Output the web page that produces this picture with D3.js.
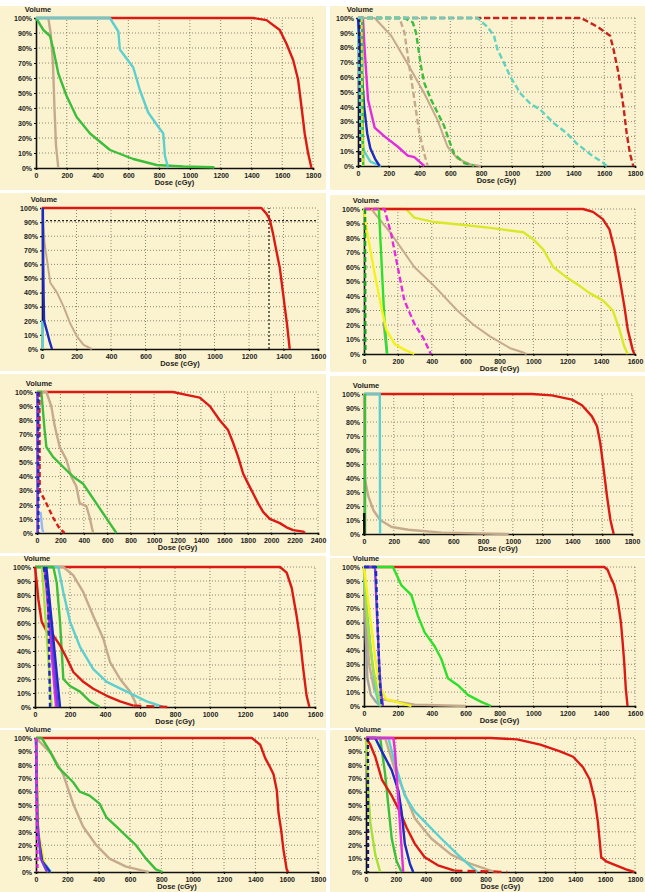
<!DOCTYPE html>
<html>
<head>
<meta charset="utf-8">
<script src="https://cdn.jsdelivr.net/npm/d3@7"></script>
<style>
  body { margin: 0; background: #fff; }
  text { font-family: "Liberation Sans", Arial, sans-serif; font-weight: bold; fill: #222; }
</style>
</head>
<body>
<div id="chart"></div>
<script>
// dose-volume histograms, 10 panels
// each curve is [dose cGy, volume %]

var volTicks = [0,10,20,30,40,50,60,70,80,90,100];

// panel 1
var p1Red = [[0,100],[1411,100],[1498,98.6],[1584,92],[1627,83],[1671,72],[1703,59],[1725,41],[1746,23],[1768,10],[1790,0]];
var p1Cyan = [[0,100],[480,100],[535,91],[545,79],[632,67],[675,52],[729,37],[784,29],[827,23],[838,8],[859,0]];
var p1Green = [[0,100],[48,92],[91,88],[113,79],[145,63],[199,48],[264,34],[351,23],[481,12],[632,6],[784,2],[957,1],[1152,0.5],[1160,0]];
var p1Tan = [[80,100],[95,90],[110,70],[120,40],[130,15],[145,0]];

// panel 2
var p2RedDash = [[0,100],[1450,100],[1558,94],[1638,88],[1660,79],[1692,63],[1725,40],[1746,22],[1768,8],[1789,0]];
var p2CyanDash = [[0,100],[776,100],[841,94],[884,88],[905,79],[938,72],[992,60],[1056,49],[1121,42],[1185,38],[1272,29],[1358,22],[1423,15],[1509,8],[1595,2],[1617,0]];
var p2GreenDash = [[0,100],[302,100],[356,97],[377,90],[410,67],[431,56],[474,45],[517,36],[560,27],[593,17],[625,8],[690,2],[755,0]];
var p2TanDash = [[0,100],[270,100],[302,90],[334,67],[366,45],[399,22],[431,8],[453,0]];
var p2Tan = [[0,100],[108,100],[216,88],[323,69],[431,49],[517,31],[582,13],[647,5],[733,1],[798,0]];
var p2Magenta = [[0,100],[32,100],[43,79],[65,45],[108,26],[172,20],[259,13],[323,7],[366,6],[410,2],[431,0]];
var p2Blue = [[0,100],[20,70],[40,40],[60,22],[80,12],[110,5],[140,0]];
var p2Cyan = [[0,100],[10,50],[20,20],[40,10],[80,3],[150,0]];
var p2NavyDash = [[8,100],[10,50],[14,0]];
var p2YelDash = [[22,100],[25,50],[30,0]];
var p2Green = [[26,100],[29,50],[34,0]];

// panel 3
var p3Red = [[0,100],[1272,100],[1301,96],[1320,92],[1339,82],[1358,70],[1378,58],[1397,40],[1407,30],[1420,18],[1436,0]];
var p3Blue = [[5,100],[7,60],[9,40],[12,20],[30,12],[45,5],[58,0]];
var p3Tan = [[0,100],[15,75],[29,63],[48,47],[87,40],[125,30],[164,18],[202,9],[241,3],[289,0]];
var p3Cyan = [[0,20],[3,10],[5,0]];
var p3RefDose = 1316, p3RefVol = 91;

// panel 4
var p4Red = [[0,100],[1293,100],[1352,98],[1410,93],[1449,86],[1479,72],[1508,53],[1537,33],[1557,17],[1586,3],[1596,0]];
var p4Yellow = [[0,100],[248,100],[297,94],[414,91],[590,89],[746,87],[941,84],[1000,79],[1059,72],[1117,60],[1195,53],[1273,47],[1332,42],[1410,37],[1469,30],[1508,17],[1537,5],[1557,0]];
var p4Tan = [[43,100],[160,83],[297,60],[414,47],[551,30],[648,20],[746,12],[863,4],[941,1],[960,0]];
var p4MagentaDash = [[0,100],[121,100],[160,83],[199,60],[238,37],[297,21],[355,10],[394,0]];
var p4Gray = [[115,22],[128,8],[135,0]];
var p4Green = [[88,100],[105,60],[120,25],[130,10],[137,0]];
var p4Yellow2 = [[0,100],[10,90],[23,81],[62,56],[101,33],[131,17],[180,7],[238,3],[297,0]];
var p4GreenDash = [[6,100],[8,0]];

// panel 5
var p5Red = [[0,100],[1162,100],[1276,98],[1390,96],[1476,90],[1561,80],[1632,73],[1675,64],[1718,54],[1761,42],[1803,35],[1846,28],[1889,21],[1931,15],[1988,10],[2074,7],[2131,4],[2188,2],[2274,1],[2288,0]];
var p5Green = [[0,100],[37,100],[65,73],[80,61],[137,54],[222,47],[308,40],[393,35],[450,28],[507,21],[564,14],[621,7],[678,0]];
var p5Tan = [[0,100],[80,100],[122,90],[151,76],[194,61],[251,52],[293,40],[336,33],[365,21],[422,19],[450,11],[479,0]];
var p5RedDash = [[20,100],[23,30],[80,21],[137,11],[194,3],[236,0]];
var p5BlueDash = [[10,100],[12,0]];
var p5Purple = [[4,100],[6,0]];
var p5LightBlue = [[30,15],[45,3],[55,0]];

// panel 6
var p6Red = [[0,100],[1128,100],[1262,99],[1397,96],[1464,92],[1531,84],[1565,77],[1587,65],[1610,46],[1632,27],[1655,10],[1677,0]];
var p6Cyan = [[0,100],[106,100],[107,50],[108,0]];
var p6Green = [[7,100],[7,0]];
var p6Tan = [[0,100],[3,60],[7,39],[29,27],[63,17],[108,10],[186,5],[298,3],[522,1],[971,0]];
var p6Black = [[1,15],[2,0]];

// panel 7
var p7Red = [[0,100],[1400,100],[1438,96],[1467,85],[1495,65],[1514,49],[1533,27],[1552,8],[1568,0]];
var p7Red2 = [[0,100],[10,89],[19,77],[38,61],[67,54],[105,51],[143,44],[181,35],[219,25],[276,18],[333,13],[410,8],[486,4],[562,1]];
var p7Red2Tail = [[562,1],[760,0]];
var p7Tan = [[0,100],[162,100],[219,94],[276,82],[333,65],[390,49],[429,32],[486,20],[543,11],[571,4],[581,0]];
var p7Cyan = [[0,100],[133,100],[162,82],[200,61],[257,43],[333,27],[410,18],[524,11],[638,4],[733,0]];
var p7Green = [[0,100],[105,100],[124,89],[143,61],[162,20],[200,15],[257,11],[314,4],[371,0]];
var p7LGreen = [[40,100],[95,0]];
var p7Magenta = [[55,100],[120,0]];
var p7Purple = [[60,100],[130,0]];
var p7Blue = [[65,100],[143,0]];
var p7BlueDash = [[50,100],[70,85],[76,73],[86,0]];

// panel 8
var p8Red = [[0,100],[1419,100],[1438,98],[1458,92],[1477,87],[1497,77],[1517,60],[1527,46],[1536,32],[1546,12],[1556,0]];
var p8Green = [[0,100],[171,100],[220,87],[279,80],[318,65],[358,53],[417,43],[456,34],[495,20],[554,15],[613,8],[692,3],[750,0]];
var p8Tan = [[0,100],[15,60],[30,30],[60,12],[100,5],[300,1],[600,0]];
var p8Yellow = [[0,100],[30,70],[60,40],[90,15],[130,5],[250,1],[280,0]];
var p8LGreen = [[0,100],[20,60],[50,30],[80,10],[100,0]];
var p8Gray = [[0,100],[10,50],[20,20],[40,8],[70,3],[100,0]];
var p8Cyan = [[0,90],[40,40],[70,10],[90,0]];
var p8Purple = [[0,100],[65,100],[75,70],[90,30],[100,10],[112,0]];
var p8BlueDash = [[0,100],[70,100],[80,60],[92,20],[105,0]];

// panel 9
var p9Red = [[0,100],[1378,100],[1431,95],[1463,85],[1495,78],[1516,73],[1537,61],[1548,44],[1564,32],[1579,17],[1600,2],[1610,0]];
var p9Green = [[0,100],[36,100],[89,90],[142,78],[195,72],[237,67],[279,60],[342,57],[406,51],[448,41],[512,34],[575,27],[638,20],[702,10],[765,2],[808,0]];
var p9Tan = [[0,100],[100,88],[173,73],[237,51],[300,34],[385,20],[469,10],[575,4],[702,0.5],[720,0]];
var p9Cyan = [[0,100],[12,30],[45,8],[95,0]];
var p9Blue = [[0,100],[10,30],[40,8],[90,0]];
var p9Yellow = [[0,100],[15,30],[50,8],[80,0]];
var p9Purple = [[0,100],[8,40],[30,10],[70,0]];
var p9MagentaDash = [[2,100],[5,50],[10,0]];

// panel 10
var p10Red = [[0,100],[834,100],[1011,99],[1166,95],[1298,90],[1386,86],[1453,78],[1497,69],[1530,54],[1552,37],[1574,11],[1607,8],[1673,5],[1740,2],[1795,0]];
var p10Red2 = [[0,100],[29,95],[62,86],[106,69],[172,57],[227,45],[272,33],[327,21],[393,11],[481,5],[592,1]];
var p10Red2Tail = [[592,1],[945,0]];
var p10Tan = [[0,100],[128,100],[194,76],[327,40],[437,25],[570,13],[702,6],[834,1],[879,0]];
var p10Cyan = [[0,100],[150,100],[194,81],[260,57],[327,45],[415,35],[503,25],[614,13],[702,4],[746,0]];
var p10Blue = [[0,100],[62,100],[106,90],[172,76],[216,61],[238,45],[260,21],[294,6],[316,0]];
var p10Magenta = [[0,100],[183,100],[194,90],[227,36],[249,0]];
var p10Green = [[0,100],[95,100],[128,73],[150,49],[172,25],[205,8],[238,0]];
var p10LGreen = [[0,100],[15,60],[29,37],[62,13],[95,0]];
var p10NavyDash = [[13,100],[13,0]];

var RED = "#dc1a14", GREEN = "#3cbd3c", BGREEN = "#2ee02a", CYAN = "#5ccfd0", TAN = "#c6aa8c",
    BLUE = "#1a2cc4", NAVY = "#1a1a70", MAGENTA = "#e22ce0", YELLOW = "#d9e82a", YELLOW2 = "#f2f21c",
    LGREEN = "#a6e03a", PURPLE = "#7a3ce2", GRAY = "#a3a3a3", AQUA = "#5fd3bf", DRED = "#c8241c";

function c(d, col, dash, w) { return {d: d, col: col, dash: dash || null, w: w || 2.4}; }

var panels = [
  {bg:[0,6,326,190], x0:36, x1:313, yT:18, yB:168, xMax:1800, curves:[
    c(p1Red,RED), c(p1Tan,TAN), c(p1Green,GREEN), c(p1Cyan,CYAN)]},
  {bg:[330,6,645,190], x0:358, x1:635, yT:18, yB:166, xMax:1800, curves:[
    c(p2RedDash,DRED,"6,3"), c(p2Tan,TAN,null,2), c(p2TanDash,TAN,"6,3"), c(p2GreenDash,GREEN,"6,3"),
    c(p2Cyan,CYAN), c(p2Magenta,MAGENTA), c(p2Blue,BLUE), c(p2Green,GREEN), c(p2YelDash,YELLOW,"4,3"),
    c(p2NavyDash,NAVY,"4,3"), c(p2CyanDash,AQUA,"6,3")]},
  {bg:[0,193,326,371], x0:42, x1:318, yT:208, yB:349, xMax:1600, ref:[p3RefDose,p3RefVol], curves:[
    c(p3Red,RED), c(p3Tan,TAN,null,2), c(p3Cyan,CYAN), c(p3Blue,BLUE)]},
  {bg:[330,195,645,372], x0:364, x1:635, yT:209, yB:354, xMax:1600, curves:[
    c(p4Yellow,YELLOW), c(p4Red,RED), c(p4Tan,TAN,null,2), c(p4MagentaDash,MAGENTA,"6,3"),
    c(p4Gray,GRAY), c(p4Green,BGREEN), c(p4Yellow2,YELLOW2), c(p4GreenDash,"#13a020","5,3")]},
  {bg:[0,374,326,553], x0:37, x1:318, yT:392, yB:533, xMax:2400, curves:[
    c(p5Red,RED), c(p5Tan,TAN), c(p5Green,GREEN), c(p5LightBlue,"#9ab8f0"), c(p5RedDash,RED,"5,3"),
    c(p5Purple,PURPLE), c(p5BlueDash,BLUE,"4,3")]},
  {bg:[330,376,645,556], x0:364, x1:632, yT:394, yB:534, xMax:1800, curves:[
    c(p6Red,RED), c(p6Tan,TAN), c(p6Cyan,CYAN), c(p6Green,GREEN), c(p6Black,"#111")]},
  {bg:[0,556,326,728], x0:35, x1:315, yT:567, yB:707, xMax:1600, curves:[
    c(p7Red,RED), c(p7Tan,TAN), c(p7Cyan,CYAN), c(p7Green,GREEN), c(p7Red2,RED),
    c(p7Red2Tail,RED,"8,5"), c(p7LGreen,LGREEN), c(p7Magenta,MAGENTA), c(p7Purple,PURPLE),
    c(p7Blue,BLUE), c(p7BlueDash,BLUE,"5,3")]},
  {bg:[330,558,645,728], x0:364, x1:635, yT:567, yB:706, xMax:1600, curves:[
    c(p8Red,RED), c(p8Tan,TAN), c(p8Gray,GRAY), c(p8Cyan,CYAN), c(p8LGreen,LGREEN), c(p8Yellow,YELLOW2),
    c(p8Green,BGREEN), c(p8Purple,PURPLE), c(p8BlueDash,BLUE,"5,3")]},
  {bg:[0,730,326,892], x0:36, x1:318, yT:738, yB:872, xMax:1800, curves:[
    c(p9Red,RED), c(p9Tan,TAN), c(p9Green,GREEN), c(p9Cyan,CYAN), c(p9Yellow,YELLOW2),
    c(p9Blue,BLUE), c(p9Purple,PURPLE), c(p9MagentaDash,MAGENTA,"4,3")]},
  {bg:[330,730,645,892], x0:366, x1:635, yT:738, yB:872, xMax:1800, curves:[
    c(p10Red,RED), c(p10Tan,TAN), c(p10Cyan,CYAN), c(p10Green,GREEN), c(p10LGreen,LGREEN),
    c(p10Red2,RED), c(p10Red2Tail,RED,"8,5"), c(p10Blue,BLUE), c(p10Magenta,MAGENTA),
    c(p10NavyDash,NAVY,"4,3")]}
];

var svg = d3.select("#chart").append("svg").attr("width", 645).attr("height", 892);
svg.append("rect").attr("width", 645).attr("height", 892).attr("fill", "#fff");

panels.forEach(function(p) {
  var g = svg.append("g");
  g.append("rect").attr("x", p.bg[0]).attr("y", p.bg[1])
    .attr("width", p.bg[2] - p.bg[0]).attr("height", p.bg[3] - p.bg[1]).attr("fill", "#fbf3cf");

  var x = d3.scaleLinear().domain([0, p.xMax]).range([p.x0, p.x1]);
  var y = d3.scaleLinear().domain([0, 100]).range([p.yB, p.yT]);
  var doseTicks = d3.range(0, p.xMax + 1, 200);

  // dotted grid
  g.selectAll(".gx").data(doseTicks.slice(1)).enter().append("line")
    .attr("x1", d => x(d)).attr("x2", d => x(d)).attr("y1", y(0)).attr("y2", y(100))
    .attr("stroke", "#6e6a5a").attr("stroke-width", 0.8).attr("stroke-dasharray", "1,2");
  g.selectAll(".gy").data(volTicks.slice(1)).enter().append("line")
    .attr("x1", x(0)).attr("x2", x(p.xMax)).attr("y1", d => y(d)).attr("y2", d => y(d))
    .attr("stroke", "#6e6a5a").attr("stroke-width", 0.8).attr("stroke-dasharray", "1,2");

  var xAxis = d3.axisBottom(x).tickValues(doseTicks).tickSize(2).tickPadding(3).tickFormat(d => String(d));
  var yAxis = d3.axisLeft(y).tickValues(volTicks).tickSize(2).tickPadding(2).tickFormat(d => d + "%");
  var gx = g.append("g").attr("transform", "translate(0," + y(0) + ")").call(xAxis);
  var gy = g.append("g").attr("transform", "translate(" + x(0) + ",0)").call(yAxis);
  [gx, gy].forEach(function(a) {
    a.select(".domain").attr("stroke", "#111").attr("stroke-width", 1.6);
    a.selectAll(".tick line").attr("stroke", "#111").attr("stroke-width", 1.2);
    a.selectAll("text").attr("font-size", 7).attr("fill", "#222")
      .attr("font-family", "Liberation Sans, Arial, sans-serif").attr("font-weight", "bold");
  });

  if (p.ref) {
    g.append("line").attr("x1", x(p.ref[0])).attr("x2", x(p.ref[0])).attr("y1", y(0)).attr("y2", y(100))
      .attr("stroke", "#222").attr("stroke-width", 1.3).attr("stroke-dasharray", "2,2");
    g.append("line").attr("x1", x(0)).attr("x2", x(p.xMax)).attr("y1", y(p.ref[1])).attr("y2", y(p.ref[1]))
      .attr("stroke", "#222").attr("stroke-width", 1.3).attr("stroke-dasharray", "2,2");
  }

  var line = d3.line().x(d => x(d[0])).y(d => y(d[1]));
  g.selectAll(".curve").data(p.curves).enter().append("path")
    .attr("d", d => line(d.d)).attr("fill", "none")
    .attr("stroke", d => d.col).attr("stroke-width", d => d.w)
    .attr("stroke-dasharray", d => d.dash).attr("stroke-linejoin", "round");

  g.append("text").attr("x", x(0) + 2).attr("y", y(100) - 6).attr("text-anchor", "middle")
    .attr("font-size", 7.5).text("Volume");
  g.append("text").attr("x", (x(0) + x(p.xMax)) / 2).attr("y", Math.min(y(0) + 17, 890))
    .attr("text-anchor", "middle").attr("font-size", 7.5).text("Dose (cGy)");
});
</script>
</body>
</html>
